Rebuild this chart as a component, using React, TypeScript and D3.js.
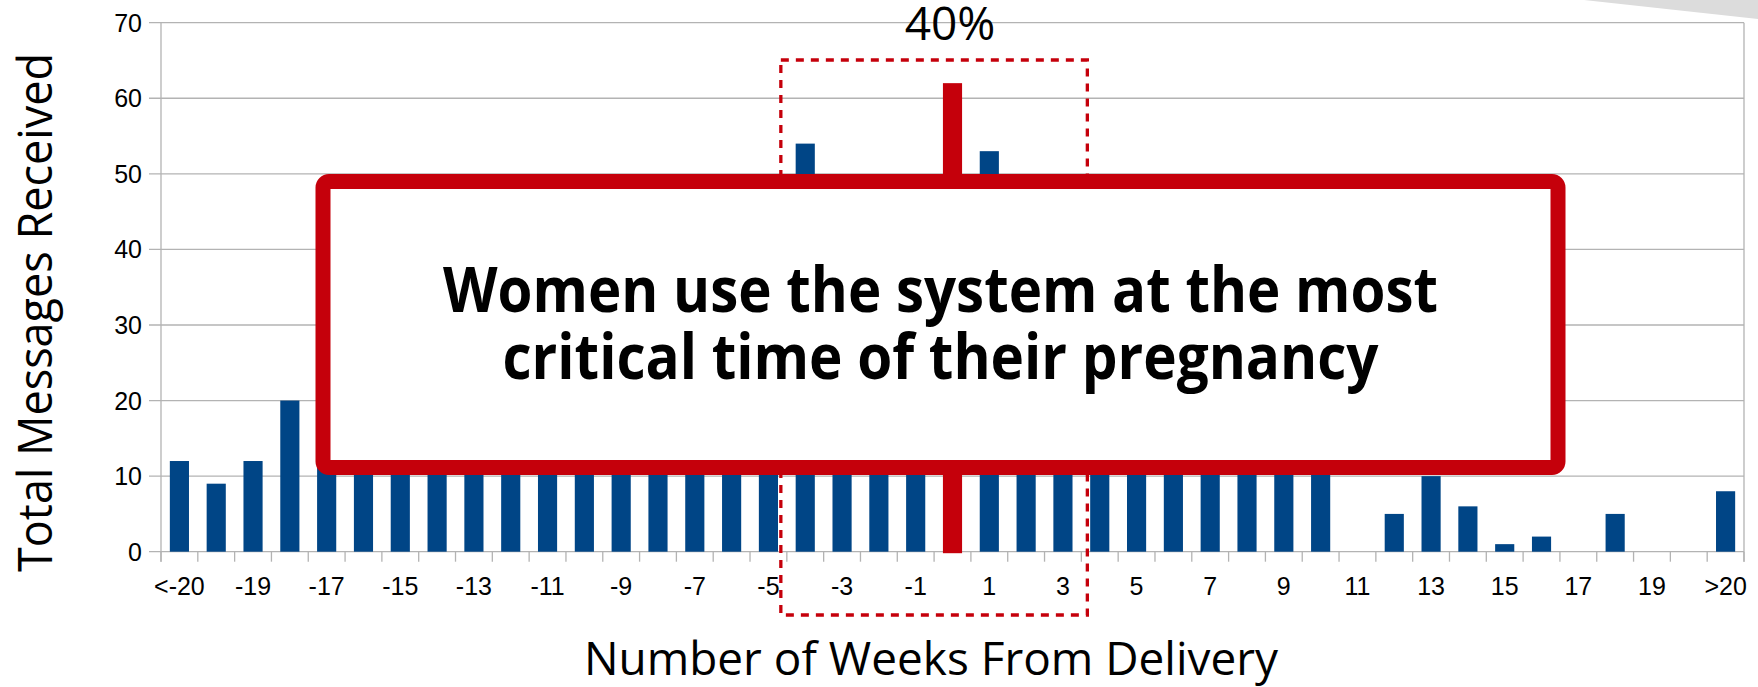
import React from "react";
import * as d3 from "d3";

const categories = [
  "<-20", "-20", "-19", "-18", "-17", "-16", "-15", "-14", "-13", "-12", "-11",
  "-10", "-9", "-8", "-7", "-6", "-5", "-4", "-3", "-2", "-1", "0",
  "1", "2", "3", "4", "5", "6", "7", "8", "9", "10", "11", "12", "13", "14",
  "15", "16", "17", "18", "19", "20", ">20",
];
const messages = [
  12, 9, 12, 20, 14, 16, 13, 18, 15, 19, 17,
  22, 20, 25, 28, 34, 40, 54, 40, 36, 44, 62,
  53, 40, 33, 30, 25, 22, 18, 15, 13, 12, 0, 5, 10, 6,
  1, 2, 0, 5, 0, 0, 8,
];
const highlightCategory = "0";
const yTicks = [0, 10, 20, 30, 40, 50, 60, 70];
const yTitle = "Total Messages Received";
const xTitle = "Number of Weeks From Delivery";
const calloutLines = ["Women use the system at the most", "critical time of their pregnancy"];
const windowStart = "-4";
const windowEnd = "3";
const windowShare = "40%";

const W = 1758;
const H = 687;
const BLUE = "#004586";
const RED = "#c5000b";
const GRID = "#b3b3b3";

export default function App() {
  const x = d3
    .scaleBand<string>()
    .domain(categories)
    .range([161, 1744])
    .paddingInner(0.48)
    .paddingOuter(0.24);
  const y = d3.scaleLinear().domain([0, 70]).range([551.7, 22.7]);
  const step = x.step();
  const slotLeft = (c: string) => (x(c) as number) - (step - x.bandwidth()) / 2;
  const [x0, x1] = x.range();
  const y0 = y(0);

  const boundaries = categories.map(slotLeft).concat([x1]);

  // dashed window around the delivery period
  const dashL = slotLeft(windowStart) - 6;
  const dashR = slotLeft(windowEnd) + step + 6;

  return (
    <svg
      width={W}
      height={H}
      style={{ position: "absolute", left: 0, top: 0, display: "block", background: "#fff" }}
    >
      <rect x={0} y={0} width={W} height={H} fill="#fff" />
      {/* decorative wedge top right */}
      <polygon points={`1584,0 ${W},0 ${W},19`} fill="#dcdcdc" />

      {/* gridlines */}
      {yTicks.map((t) => (
        <line key={"g" + t} x1={x0 - 12} x2={x1} y1={y(t)} y2={y(t)} stroke={GRID} strokeWidth={1.3} />
      ))}
      {/* axis lines */}
      <line x1={x0} x2={x0} y1={y(70)} y2={y0 + 10} stroke={GRID} strokeWidth={1.3} />
      <line x1={x1} x2={x1} y1={y(70)} y2={y0 + 10} stroke={GRID} strokeWidth={1.3} />
      {boundaries.map((b, i) => (
        <line key={"t" + i} x1={b} x2={b} y1={y0} y2={y0 + 10} stroke={GRID} strokeWidth={1.3} />
      ))}

      {/* y tick labels */}
      {yTicks.map((t) => (
        <text
          key={"yl" + t}
          x={142}
          y={y(t) + 9}
          textAnchor="end"
          fontFamily="'Liberation Sans', Arial, sans-serif"
          fontSize={25}
          fill="#000"
        >
          {t}
        </text>
      ))}

      {/* bars */}
      {categories.map((c, i) => {
        const isHi = c === highlightCategory;
        const v = messages[i];
        if (!v) return null;
        return (
          <rect
            key={"b" + c}
            x={x(c)}
            y={y(v)}
            width={x.bandwidth()}
            height={y0 - y(v) + (isHi ? 1.5 : 0)}
            fill={isHi ? RED : BLUE}
          />
        );
      })}

      {/* x tick labels */}
      {categories.map((c, i) =>
        i % 2 === 0 ? (
          <text
            key={"xl" + c}
            x={(x(c) as number) + x.bandwidth() / 2}
            y={595}
            textAnchor="middle"
            fontFamily="'Liberation Sans', Arial, sans-serif"
            fontSize={25}
            fill="#000"
          >
            {c}
          </text>
        ) : null
      )}

      {/* dashed window */}
      <rect
        x={dashL}
        y={60}
        width={dashR - dashL}
        height={555}
        fill="none"
        stroke={RED}
        strokeWidth={3.3}
        strokeDasharray="8 7"
      />
      <text
        x={950}
        y={40}
        textAnchor="middle"
        fontFamily="'Open Sans', sans-serif"
        fontSize={46}
        fill="#000"
      >
        {windowShare}
      </text>

      {/* callout box */}
      <rect x={323} y={181.5} width={1235} height={286} rx={6} fill="#fff" stroke={RED} strokeWidth={15} />
      {calloutLines.map((l, i) => (
        <text
          key={"c" + i}
          x={940.5}
          y={311.7 + i * 67.6}
          textAnchor="middle"
          fontFamily="'Open Sans', sans-serif"
          fontWeight={700}
          fontSize={62}
          textLength={i === 0 ? 995 : 876}
          lengthAdjust="spacingAndGlyphs"
          fill="#000"
        >
          {l}
        </text>
      ))}

      {/* axis titles */}
      <text
        transform={`translate(51.5, 312.5) rotate(-90)`}
        textAnchor="middle"
        fontFamily="'Open Sans', sans-serif"
        fontSize={48}
        textLength={519}
        lengthAdjust="spacingAndGlyphs"
        fill="#000"
      >
        {yTitle}
      </text>
      <text
        x={931}
        y={675}
        textAnchor="middle"
        fontFamily="'Open Sans', sans-serif"
        fontSize={46}
        textLength={694}
        lengthAdjust="spacingAndGlyphs"
        fill="#000"
      >
        {xTitle}
      </text>
    </svg>
  );
}
